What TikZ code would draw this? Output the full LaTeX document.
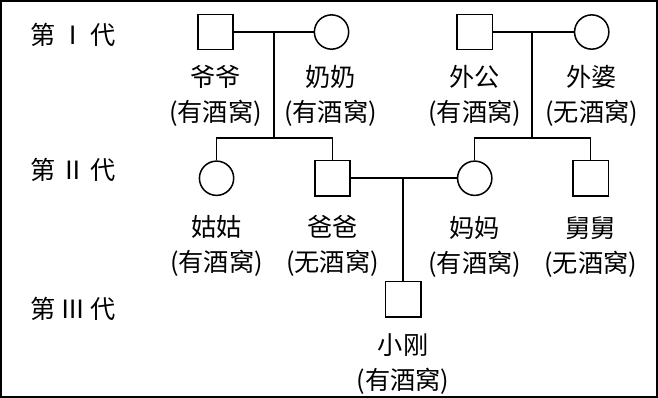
\documentclass[tikz,border=0pt]{standalone}
\usepackage{fontspec}
\setmainfont{Noto Sans CJK SC}
\usetikzlibrary{positioning}
\tikzset{male/.style={
    rectangle,
    draw,
    line width=1.5pt,
    minimum size=35pt,
    inner sep=0pt
  },
  female/.style={male,circle,minimum size=34pt},
  who/.style={align=center,inner sep=0pt,font=\fontsize{25}{35}\selectfont},
  gen/.style={anchor=west,inner sep=0pt,font=\fontsize{25}{28}\selectfont},
  link/.style={line width=1.5pt},
}

\begin{document}
\begin{tikzpicture}[x=1pt,y=-1pt]
  \draw[link] (4,4) rectangle (655,397);
  \node[gen] (gen1) at (33,38) {第\makebox[35pt]{Ⅰ}代};
  \node[gen] (gen2) at (33,172) {第\makebox[35pt]{Ⅱ}代};
  \node[gen] (gen3) at (33,310) {第\makebox[35pt]{Ⅲ}代};
  \node[male] (yeye) at (217,35) {};
  \node[female] (nainai) at (332,35) {};
  \node[male] (waigong) at (474,35) {};
  \node[female] (waipo) at (590,35) {};
  \node[female] (gugu) at (218,180) {};
  \node[male] (baba) at (333,180) {};
  \node[female] (mama) at (474,180) {};
  \node[male] (jiujiu) at (589,180) {};
  \node[male] (xiaogang) at (403,300) {};
  \node[who] (yeyeT) at (217,98) {爷爷\\(有酒窝)};
  \node[who] (nainaiT) at (331,98) {奶奶\\(有酒窝)};
  \node[who] (waigongT) at (474,98) {外公\\(有酒窝)};
  \node[who] (waipoT) at (590,98) {外婆\\(无酒窝)};
  \node[who] (guguT) at (218,247) {姑姑\\(有酒窝)};
  \node[who] (babaT) at (333,247) {爸爸\\(无酒窝)};
  \node[who] (mamaT) at (474,248) {妈妈\\(有酒窝)};
  \node[who] (jiujiuT) at (589,248) {舅舅\\(无酒窝)};
  \node[who] (xiaogangT) at (403,364) {小刚\\(有酒窝)};
  \coordinate (m1) at (275,35);
  \coordinate (s1) at (275,140);
  \coordinate (m2) at (531,35);
  \coordinate (s2) at (531,140);
  \coordinate (m3) at (403,180);
  \draw[link] (yeye) -- (nainai);
  \draw[link] (waigong) -- (waipo);
  \draw[link] (baba) -- (mama);
  \draw[link] (m1) -- (s1);
  \draw[link] (m2) -- (s2);
  \draw[link] (gugu.north) |- (s1) -| (baba.north);
  \draw[link] (mama.north) |- (s2) -| (jiujiu.north);
  \draw[link] (m3) -- (xiaogang);
\end{tikzpicture}
\end{document}
